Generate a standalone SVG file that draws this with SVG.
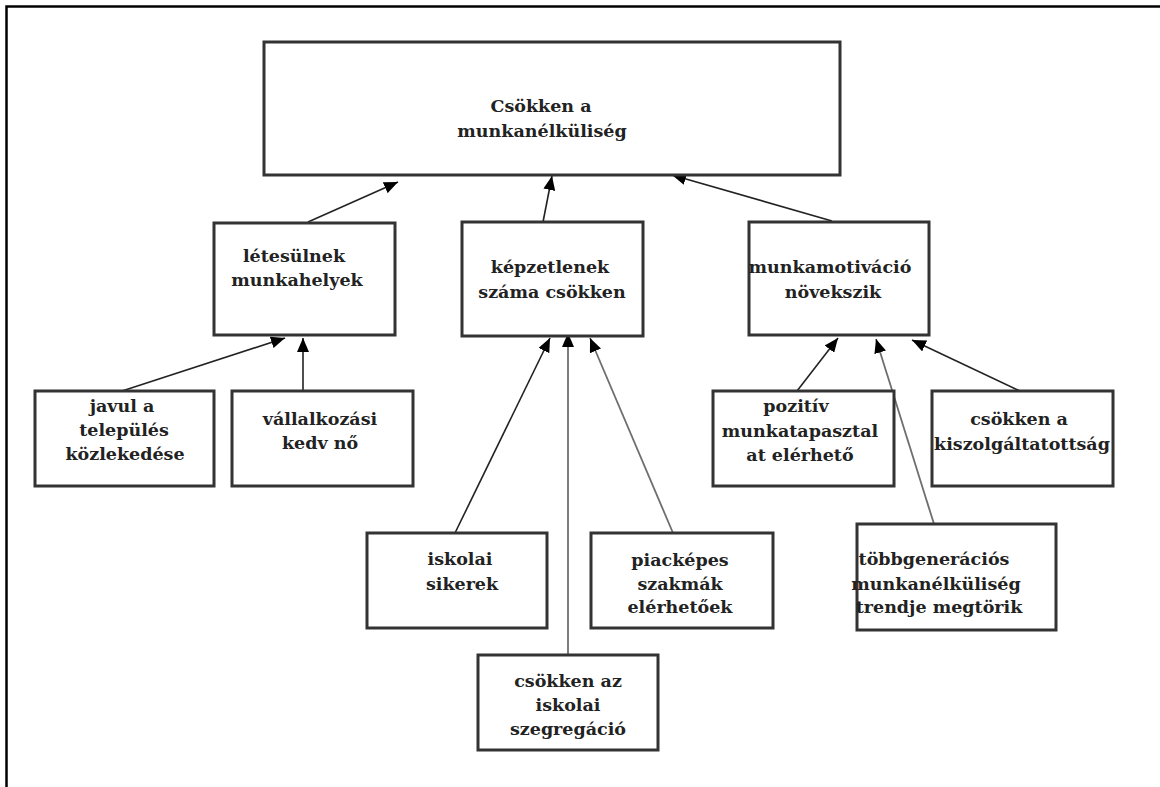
<svg xmlns="http://www.w3.org/2000/svg" width="1160" height="787" viewBox="0 0 1160 787">
  <defs>
    <style>
      .box { fill: #fff; stroke: #333; stroke-width: 3; }
      .lbl { font-family: "DejaVu Serif", "Liberation Serif", serif; font-weight: bold; font-size: 17.5px; fill: #222; text-anchor: middle; }
      .edge { fill: none; stroke: #222; stroke-width: 1.6; }
      .edge.grey { stroke: #6e6e6e; stroke-width: 1.8; }
      .frame { fill: none; stroke: #000; stroke-width: 2.5; }
    </style>
    <marker id="arrow" viewBox="0 0 14 12" refX="14" refY="6" markerWidth="14" markerHeight="12" markerUnits="userSpaceOnUse" orient="auto">
      <path d="M0,0 L14,6 L0,12 Z" fill="#000"/>
    </marker>
  </defs>

  <rect width="1160" height="787" fill="#fff"/>
  <!-- page frame (top and left edges) -->
  <path class="frame" d="M6.5,787 V6.5 H1160"/>

  <!-- connectors -->
  <g id="connectors">
    <line class="edge" x1="308" y1="222" x2="398" y2="182" marker-end="url(#arrow)"/>
    <line class="edge" x1="543" y1="222" x2="552" y2="176" marker-end="url(#arrow)"/>
    <line class="edge" x1="832" y1="221" x2="672" y2="175" marker-end="url(#arrow)"/>
    <line class="edge" x1="122" y1="391" x2="285" y2="338" marker-end="url(#arrow)"/>
    <line class="edge" x1="303" y1="391" x2="303" y2="338" marker-end="url(#arrow)"/>
    <line class="edge" x1="455" y1="533" x2="550" y2="338" marker-end="url(#arrow)"/>
    <line class="edge grey" x1="568" y1="655" x2="568" y2="333" marker-end="url(#arrow)"/>
    <line class="edge grey" x1="673" y1="533" x2="590" y2="338" marker-end="url(#arrow)"/>
    <line class="edge" x1="797" y1="391" x2="838" y2="338" marker-end="url(#arrow)"/>
    <line class="edge grey" x1="934" y1="524" x2="876" y2="339" marker-end="url(#arrow)"/>
    <line class="edge" x1="1020" y1="391" x2="912" y2="340" marker-end="url(#arrow)"/>
  </g>

  <g id="csokken-munkanelkuliseg">
    <rect class="box" x="264" y="42" width="576" height="133"/>
    <text class="lbl" x="541" y="112">Csökken a</text>
    <text class="lbl" x="542" y="137">munkanélküliség</text>
  </g>

  <g id="letesulnek-munkahelyek">
    <rect class="box" x="214" y="223" width="181" height="112"/>
    <text class="lbl" x="294" y="262">létesülnek</text>
    <text class="lbl" x="297" y="286">munkahelyek</text>
  </g>

  <g id="kepzetlenek-szama">
    <rect class="box" x="462" y="222" width="181" height="114"/>
    <text class="lbl" x="550" y="273">képzetlenek</text>
    <text class="lbl" x="552" y="298">száma csökken</text>
  </g>

  <g id="munkamotivacio">
    <rect class="box" x="749" y="222" width="180" height="113"/>
    <text class="lbl" x="830" y="273">munkamotiváció</text>
    <text class="lbl" x="833" y="298">növekszik</text>
  </g>

  <g id="javul-kozlekedes">
    <rect class="box" x="35" y="391" width="179" height="95"/>
    <text class="lbl" x="122" y="412">javul a</text>
    <text class="lbl" x="124" y="436">település</text>
    <text class="lbl" x="125" y="460">közlekedése</text>
  </g>

  <g id="vallalkozasi-kedv">
    <rect class="box" x="232" y="391" width="181" height="95"/>
    <text class="lbl" x="320" y="425">vállalkozási</text>
    <text class="lbl" x="320" y="449">kedv nő</text>
  </g>

  <g id="iskolai-sikerek">
    <rect class="box" x="367" y="533" width="180" height="95"/>
    <text class="lbl" x="460" y="565">iskolai</text>
    <text class="lbl" x="462" y="590">sikerek</text>
  </g>

  <g id="piackepes-szakmak">
    <rect class="box" x="591" y="533" width="182" height="95"/>
    <text class="lbl" x="680" y="566">piacképes</text>
    <text class="lbl" x="680" y="590">szakmák</text>
    <text class="lbl" x="680" y="613">elérhetőek</text>
  </g>

  <g id="iskolai-szegregacio">
    <rect class="box" x="478" y="655" width="180" height="95"/>
    <text class="lbl" x="568" y="687">csökken az</text>
    <text class="lbl" x="568" y="711">iskolai</text>
    <text class="lbl" x="568" y="735">szegregáció</text>
  </g>

  <g id="pozitiv-munkatapasztalat">
    <rect class="box" x="713" y="391" width="181" height="95"/>
    <text class="lbl" x="796" y="412">pozitív</text>
    <text class="lbl" x="800" y="437">munkatapasztal</text>
    <text class="lbl" x="800" y="461">at elérhető</text>
  </g>

  <g id="kiszolgaltatottsag">
    <rect class="box" x="932" y="391" width="181" height="95"/>
    <text class="lbl" x="1019" y="425">csökken a</text>
    <text class="lbl" x="1022" y="450">kiszolgáltatottság</text>
  </g>

  <g id="tobbgeneracios">
    <rect class="box" x="857" y="524" width="199" height="106"/>
    <text class="lbl" x="934" y="565">többgenerációs</text>
    <text class="lbl" x="936" y="590">munkanélküliség</text>
    <text class="lbl" x="939" y="613">trendje megtörik</text>
  </g>
</svg>
